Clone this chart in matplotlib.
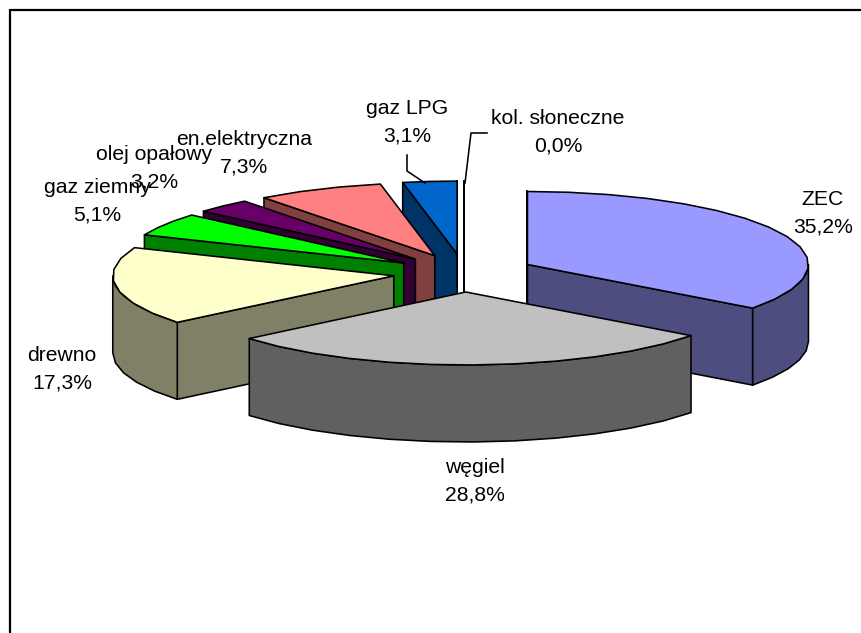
import numpy as np
import matplotlib
matplotlib.use("Agg")
import matplotlib.pyplot as plt
from matplotlib.patches import Polygon

# Heating sources and their shares, clockwise from twelve o'clock
categories = ["ZEC", "węgiel", "drewno", "gaz ziemny", "olej opałowy",
              "en.elektryczna", "gaz LPG", "kol. słoneczne"]
values = [35.2, 28.8, 17.3, 5.1, 3.2, 7.3, 3.1, 0.0]
top_colors = ["#9999FF", "#C0C0C0", "#FFFFCC", "#00FF00", "#660066",
              "#FF8080", "#0066CC", "#FFFFFF"]
side_colors = ["#4D4D80", "#606060", "#808066", "#008000", "#330033",
               "#804040", "#003366", "#FFFFFF"]
label_x = [823, 475, 62, 97, 154, 244, 407, 558]
label_y = [213, 481, 369, 201, 168, 153, 122, 132]
paint_order = [7, 6, 5, 4, 3, 2, 0, 1]

# Projection of the tilted, exploded pie in figure pixels
CX, CY = 464, 273
RX, RY = 281, 73
EX, EY = 71, 19
DEPTH = 77
ARC_STEP = np.radians(9)
LINE = 1.15

fig = plt.figure(figsize=(8.61, 6.33), dpi=100, facecolor="white")
ax = fig.add_axes([0, 0, 1, 1])
ax.set_xlim(0, 861)
ax.set_ylim(633, 0)
ax.axis("off")


def rim(apex, theta):
    return np.column_stack([apex[0] + RX * np.sin(theta),
                            apex[1] - RY * np.cos(theta)])


def arc_angles(a, b):
    n = max(int(np.ceil((b - a) / ARC_STEP)), 1)
    return np.linspace(a, b, n + 1)


def add_face(points, color, z):
    ax.add_patch(Polygon(points, closed=True, facecolor=color, edgecolor="black",
                         linewidth=LINE, joinstyle="round", zorder=z))


def drop(points):
    return points + np.array([0, DEPTH])


shares = np.array(values) / sum(values)
ends = np.cumsum(shares) * 2 * np.pi
starts = ends - shares * 2 * np.pi

for rank, i in enumerate(paint_order):
    a, b = starts[i], ends[i]
    mid = (a + b) / 2
    apex = np.array([CX + EX * np.sin(mid), CY - EY * np.cos(mid)])
    z = 2 + rank * 0.1
    centre = apex[None, :]

    # Radial walls that turn towards the viewer
    if np.sin(b) >= -1e-9 and b > a:
        edge = np.vstack([centre, rim(apex, np.array([b]))])
        add_face(np.vstack([edge, drop(edge)[::-1]]), side_colors[i], z)
    if np.sin(a) <= 1e-9:
        edge = np.vstack([centre, rim(apex, np.array([a]))])
        add_face(np.vstack([edge, drop(edge)[::-1]]), side_colors[i], z)

    # Outer wall along the front half of the rim
    lo, hi = max(a, np.pi / 2), min(b, 3 * np.pi / 2)
    if hi > lo:
        curve = rim(apex, arc_angles(lo, hi))
        add_face(np.vstack([curve, drop(curve)[::-1]]), side_colors[i], z)

    # Top face
    top = np.vstack([centre, rim(apex, arc_angles(a, b))])
    add_face(top, top_colors[i], z)

# Leader lines for the two narrowest slices
ax.plot([407, 407, 425], [155, 171, 183], color="black", lw=LINE, zorder=5)
ax.plot([487, 471, 465], [133, 133, 183], color="black", lw=LINE, zorder=5)

for name, v, x, y in zip(categories, values, label_x, label_y):
    share = f"{v:.1f}%".replace(".", ",")
    ax.text(x, y, f"{name}\n{share}", ha="center", va="center", ma="center",
            fontsize=15.2, family="Liberation Sans", color="black",
            linespacing=1.58, zorder=6)

# Chart frame: only the top and left edges fall inside the canvas
ax.plot([9.5, 861], [10, 10], color="black", lw=1.6, zorder=7, solid_capstyle="butt")
ax.plot([9.5, 9.5], [9, 633], color="black", lw=1.6, zorder=7, solid_capstyle="butt")

fig.savefig("out.png", dpi=100, facecolor="white")
